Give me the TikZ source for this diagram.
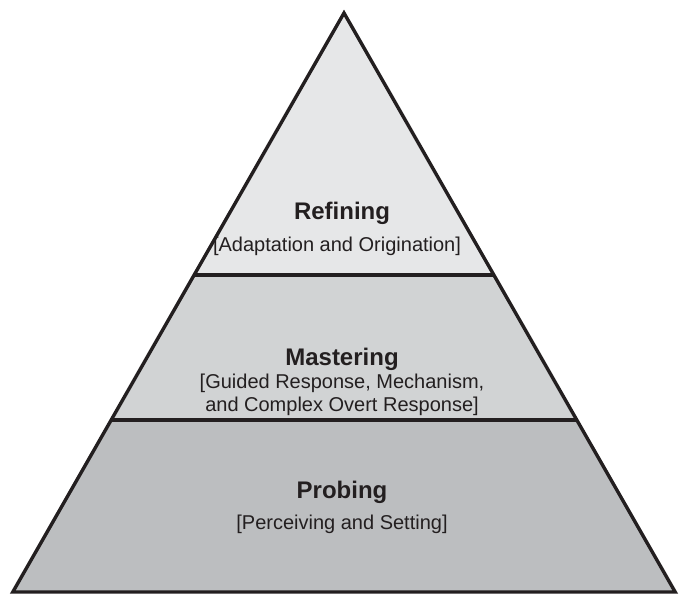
\documentclass[tikz,border=0pt]{standalone}
\usepackage{fontspec}
\setmainfont{Liberation Sans}
\begin{document}
\definecolor{tierTop}{HTML}{E6E7E8}
\definecolor{tierMid}{HTML}{D1D3D4}
\definecolor{tierLow}{HTML}{BCBEC0}
\definecolor{ink}{HTML}{231F20}
\begin{tikzpicture}[x=1pt,y=-1pt,
  edge/.style={draw=ink,line width=3.4pt,line join=miter,miter limit=10},
  title/.style={font=\fontsize{24}{28}\selectfont\bfseries,text=ink,inner sep=0pt},
  caption/.style={font=\fontsize{20}{23}\selectfont,text=ink,align=center,inner sep=0pt}]
  \useasboundingbox (0,0) rectangle (681,595);
  % corner points of the pyramid and its tier boundaries
  \coordinate (apex) at (344,13);
  \coordinate (l1) at (193.9,275);
  \coordinate (r1) at (494.1,275);
  \coordinate (l2) at (111.2,420);
  \coordinate (r2) at (576.8,420);
  \coordinate (bl) at (12.8,592);
  \coordinate (br) at (675.2,592);
  % tier fills
  \fill[tierTop] (apex) -- (r1) -- (l1) -- cycle;
  \fill[tierMid] (l1) -- (r1) -- (r2) -- (l2) -- cycle;
  \fill[tierLow] (l2) -- (r2) -- (br) -- (bl) -- cycle;
  % dividers and outline
  \draw[edge] (l1) -- (r1);
  \draw[edge] (l2) -- (r2);
  \draw[edge] (apex) -- (br) -- (bl) -- cycle;
  % labels
  \node[title] (refining) at (342,213) {Refining};
  \node[caption] (refiningsub) at (337,246) {[Adaptation and Origination]};
  \node[title] (mastering) at (342,359) {Mastering};
  \node[caption] (masteringsub) at (342,395) {[Guided Response, Mechanism,\\and Complex Overt Response]};
  \node[title] (probing) at (342,492) {Probing};
  \node[caption] (probingsub) at (342,524) {[Perceiving and Setting]};
\end{tikzpicture}
\end{document}
